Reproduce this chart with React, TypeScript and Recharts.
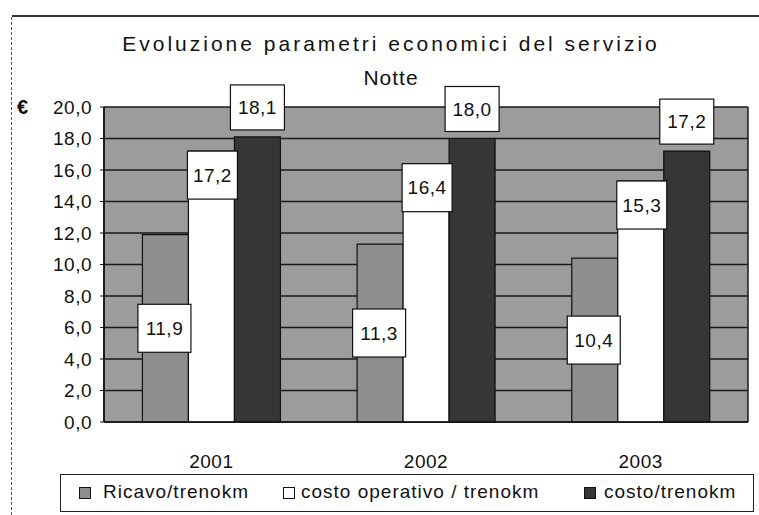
import React from 'react';
import { BarChart, Bar, XAxis, YAxis, CartesianGrid, LabelList } from 'recharts';

const categories = ['2001', '2002', '2003'];
const ricavoTrenokm = [11.9, 11.3, 10.4];
const costoOperativoTrenokm = [17.2, 16.4, 15.3];
const costoTrenokm = [18.1, 18.0, 17.2];
const yTicks = [0, 2, 4, 6, 8, 10, 12, 14, 16, 18, 20];

const seriesNames = ['Ricavo/trenokm', 'costo operativo / trenokm', 'costo/trenokm'];

const data = categories.map((c, i) => ({
  year: c,
  ricavo: ricavoTrenokm[i],
  costoOp: costoOperativoTrenokm[i],
  costo: costoTrenokm[i],
}));

const FONT = '"Liberation Sans", Arial, sans-serif';
const fmt = (v: number) => v.toFixed(1).replace('.', ',');

const BG = '#9c9c9c';
const RICAVO_FILL = '#8e8e8e';
const DARK_FILL = '#363636';

const LabelBox = ({ cx, cy, w, h, value }: any) => (
  <g>
    <rect x={cx - w / 2} y={cy - h / 2} width={w} height={h} fill="#fff" stroke="#111" strokeWidth={1.2} />
    <text x={cx} y={cy} textAnchor="middle" dominantBaseline="central" fontFamily={FONT} fontSize={19} letterSpacing={0.5} fill="#111">
      {fmt(Number(value))}
    </text>
  </g>
);

const centerLabel = (props: any) => {
  const { x, y, width, height, value } = props;
  return <LabelBox cx={x + width / 2 - 1} cy={y + height / 2} w={53} h={48} value={value} />;
};

const insideTopLabel = (props: any) => {
  const { x, y, width, value } = props;
  return <LabelBox cx={x + width / 2 + 1} cy={y + 24} w={50} h={48} value={value} />;
};

const outsideTopLabel = (props: any) => {
  const { x, y, width, value } = props;
  return <LabelBox cx={x + width / 2} cy={y - 7 - 22.5} w={54} h={45} value={value} />;
};

const legendItems = [
  { name: seriesNames[0], fill: RICAVO_FILL, iconX: 18, textX: 42 },
  { name: seriesNames[1], fill: '#ffffff', iconX: 222, textX: 240 },
  { name: seriesNames[2], fill: DARK_FILL, iconX: 523, textX: 543 },
];

export default function App() {
  return (
    <div style={{ position: 'absolute', left: 0, top: 0, width: 759, height: 515, background: '#fff', fontFamily: FONT }}>
      {/* scanned frame */}
      <div style={{ position: 'absolute', left: 12, top: 15, width: 747, height: 2, background: '#333' }} />
      <div style={{ position: 'absolute', left: 11, top: 17, width: 0, height: 498, borderLeft: '1px dashed #555' }} />

      {/* title */}
      <div style={{ position: 'absolute', left: 0, width: 782, top: 31, textAlign: 'center', fontSize: 21, letterSpacing: 3, color: '#111', lineHeight: '26px' }}>
        Evoluzione parametri economici del servizio
      </div>
      <div style={{ position: 'absolute', left: 0, width: 782, top: 65, textAlign: 'center', fontSize: 21, letterSpacing: 1, color: '#111', lineHeight: '26px' }}>
        Notte
      </div>
      <div style={{ position: 'absolute', left: 17, top: 94, fontSize: 20, fontWeight: 'bold', color: '#111', lineHeight: '26px' }}>€</div>

      <BarChart
        width={759}
        height={515}
        data={data}
        margin={{ top: 107, right: 11, left: 0, bottom: 53 }}
        barCategoryGap="17.9%"
        barGap={0}
      >
        <CartesianGrid
          fill={BG}
          stroke="#1a1a1a"
          strokeWidth={1.5}
          horizontal={true}
          vertical={true}
          verticalCoordinatesGenerator={({ offset }: any) => [offset.left, offset.left + offset.width]}
        />
        <XAxis
          dataKey="year"
          height={40}
          tickLine={false}
          axisLine={{ stroke: '#111', strokeWidth: 1.5 }}
          tickMargin={27}
          tick={{ fontFamily: FONT, fontSize: 19, fill: '#111', letterSpacing: 0.5 }}
        />
        <YAxis
          width={104}
          domain={[0, 20]}
          ticks={yTicks}
          interval={0}
          tickFormatter={fmt}
          tickSize={4}
          tickMargin={8}
          tickLine={{ stroke: '#111' }}
          axisLine={{ stroke: '#111', strokeWidth: 1.5 }}
          tick={{ fontFamily: FONT, fontSize: 19, fill: '#111', letterSpacing: 0.5 }}
        />
        <Bar dataKey="ricavo" name={seriesNames[0]} fill={RICAVO_FILL} stroke="#111" strokeWidth={1.2} isAnimationActive={false}>
          <LabelList dataKey="ricavo" content={centerLabel} />
        </Bar>
        <Bar dataKey="costoOp" name={seriesNames[1]} fill="#ffffff" stroke="#111" strokeWidth={1.2} isAnimationActive={false}>
          <LabelList dataKey="costoOp" content={insideTopLabel} />
        </Bar>
        <Bar dataKey="costo" name={seriesNames[2]} fill={DARK_FILL} stroke="#111" strokeWidth={1.2} isAnimationActive={false}>
          <LabelList dataKey="costo" content={outsideTopLabel} />
        </Bar>
      </BarChart>

      {/* legend */}
      <div style={{ position: 'absolute', left: 60, top: 474, width: 694, height: 38, border: '1.5px solid #222', boxSizing: 'border-box', background: '#fff' }}>
        {legendItems.map((it) => (
          <React.Fragment key={it.name}>
            <div style={{ position: 'absolute', left: it.iconX, top: 12, width: 10, height: 10, background: it.fill, border: '1px solid #111' }} />
            <div style={{ position: 'absolute', left: it.textX, top: 5, fontSize: 19, letterSpacing: 1, color: '#111', lineHeight: '24px', whiteSpace: 'nowrap' }}>
              {it.name}
            </div>
          </React.Fragment>
        ))}
      </div>
    </div>
  );
}
